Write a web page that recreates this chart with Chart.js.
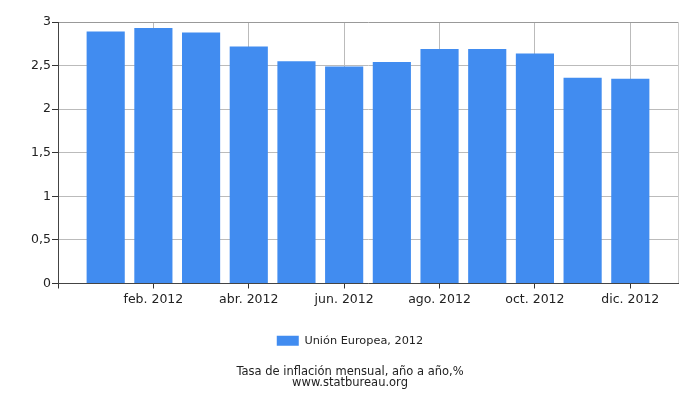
<!DOCTYPE html>
<html>
<head>
<meta charset="utf-8">
<script src="https://cdn.jsdelivr.net/npm/chart.js@4"></script>
<style>
  html, body { margin: 0; padding: 0; background: #fff; }
  #wrap { width: 700px; height: 400px; }
</style>
</head>
<body>
<div id="wrap"><canvas id="myBarChart"></canvas></div>
<script>
// monthly inflation, EU 2012
const months = ["ene. 2012", "feb. 2012", "mar. 2012", "abr. 2012", "may. 2012", "jun. 2012",
                "jul. 2012", "ago. 2012", "sep. 2012", "oct. 2012", "nov. 2012", "dic. 2012"];
const values = [2.89, 2.93, 2.88, 2.72, 2.55, 2.49, 2.54, 2.69, 2.69, 2.64, 2.36, 2.35];
const yTickLabels = ["0", "0,5", "1", "1,5", "2", "2,5", "3"];
const seriesName = "Unión Europea, 2012";
const titleLines = ["Tasa de inflación mensual, año a año,%", "www.statbureau.org"];

const font = "'DejaVu Sans', Verdana, sans-serif";

function tickVal(c) {
    return c.tick ? c.tick.value : -1;
}

const chartData = {
    type: "bar",
    data: {
        datasets: [{
            label: seriesName,
            backgroundColor: "#418cf0",
            borderWidth: 0,
            barPercentage: 1,
            categoryPercentage: 0.8,
            data: values.map((v, i) => ({ x: i + 1, y: v }))
        }]
    },
    options: {
        responsive: true,
        maintainAspectRatio: false,
        animation: false,
        layout: { padding: { left: 0, right: 0, top: 22, bottom: 12 } },
        plugins: {
            tooltip: { enabled: false },
            legend: {
                position: "bottom",
                labels: {
                    boxWidth: 22,
                    boxHeight: 10,
                    color: "#222",
                    font: { family: font, size: 11.3 },
                    padding: 14
                }
            },
            title: {
                display: true,
                position: "bottom",
                text: titleLines,
                color: "#222",
                font: { family: font, size: 11.5, weight: "normal", lineHeight: 0.9 },
                padding: { top: 11, bottom: 0 }
            }
        },
        scales: {
            x: {
                type: "linear",
                min: 0,
                max: 13,
                offset: false,
                afterFit: s => { s.height = 37.5; },
                border: { color: "#444" },
                grid: {
                    offset: false,
                    color: c => {
                        const v = tickVal(c);
                        if (v === 13) return "#ccc";
                        return (v > 0 && v % 2 === 0) ? "#bbb" : "rgba(0,0,0,0)";
                    },
                    tickColor: c => {
                        const v = tickVal(c);
                        return (v >= 0 && v < 13 && v % 2 === 0) ? "#333" : "rgba(0,0,0,0)";
                    },
                    tickLength: 5
                },
                ticks: {
                    stepSize: 1,
                    autoSkip: false,
                    maxRotation: 0,
                    padding: 4,
                    color: "#222",
                    font: { family: font, size: 12.5 },
                    callback: v => (v > 0 && v < 13 && v % 2 === 0) ? months[v - 1] : ""
                }
            },
            y: {
                min: 0,
                max: 3,
                afterFit: s => { s.width = 58; },
                border: { color: "#444" },
                grid: {
                    color: c => tickVal(c) === 3 ? "#999" : "#bbb",
                    tickColor: "#333",
                    tickLength: 6
                },
                ticks: {
                    stepSize: 0.5,
                    padding: 1,
                    color: "#222",
                    font: { family: font, size: 12.5 },
                    callback: (v, i) => yTickLabels[i]
                }
            },
            // empty right-hand strip so the legend and title stay centred on the page
            yRight: {
                position: "right",
                min: 0,
                max: 3,
                afterFit: s => { s.width = 22; },
                border: { display: false },
                grid: { display: false },
                ticks: { display: false }
            }
        }
    }
};
const barChart = new Chart("myBarChart", chartData);
</script>
</body>
</html>
